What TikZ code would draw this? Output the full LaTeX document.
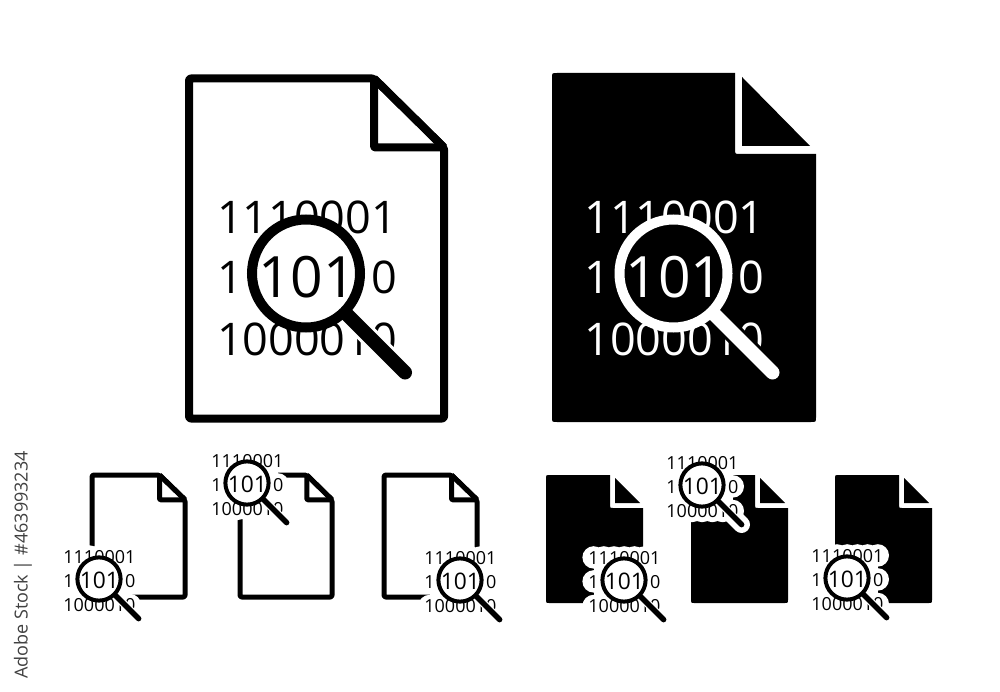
\documentclass[tikz,border=0pt]{standalone}
\usepackage{fontspec}
\setmainfont{Open Sans}
\newcommand{\digitfont}[1]{\fontsize{#1}{#1}\selectfont}
\tikzset{
  digits/.style={inner sep=0pt,outer sep=0pt,anchor=base west,transform shape,font=\digitfont{45}},
  lens/.style={inner sep=0pt,outer sep=0pt,anchor=base,transform shape,font=\digitfont{57}},
  stamp/.style={inner sep=0pt,anchor=east,rotate=90,font=\digitfont{18},text=black!75},
  outlinestroke/.style={draw=black,fill=white,line join=round,rounded corners=2pt}
}
% name, centre x, centre y, scale, foreground, background, halo radius (0 = none)
\newcommand{\magnifier}[7]{%
  \begin{scope}[shift={(#2,#3)},scale=#4]
    \ifnum#7>0
      \foreach \ry in {-56.5,3.5,65}{
        \foreach \i in {0,...,6}{
          \fill[#6] ({-76+25.5*\i},\ry) circle (#7);
        }
      }
      \fill[#6] (-76,-56.5) rectangle (77,65);
      \draw[#6,line width=#4*42pt,line cap=round] (41,41) -- (99,99);
      \fill[#6] (0,0) circle (72);
    \fi
    \node[digits,text=#5] (#1r1) at (-89,-40) {1110001};
    \node[digits,text=#5] (#1r2) at (-89,20) {1\hspace{2.86em}0};
    \node[digits,text=#5] (#1r3) at (-89,81.5) {1000010};
    \fill[#6] (0,0) circle (54);
    \draw[#6,line width=#4*20pt,line cap=butt] (45,45) -- (94,94);
    \draw[#5,line width=#4*14pt,line cap=round] (41,41) -- (99,99);
    \draw[#5,line width=#4*10pt] (0,0) circle (54);
    \node[lens,text=#5] (#1t) at (1,24.5) {101};
  \end{scope}%
}
% left, top, x scale, y scale, line width
\newcommand{\outlinedoc}[5]{%
  \begin{scope}[shift={(#1,#2)},xscale=#3,yscale=#4]
    \draw[outlinestroke,line width=#5] (0,0) -- (185,0) -- (255,69) -- (255,340) -- (0,340) -- cycle;
    \draw[black,line width=#5,line join=round,rounded corners=1pt] (185,0) -- (185,69) -- (255,69);
    \draw[black,line width=#5,line join=round] (185,0) -- (255,69);
  \end{scope}%
}
\newcommand{\filledbig}{%
  \fill[black] (5,0) -- (183,0) -- (183,76) .. controls (183,81) and (183,81) .. (188,81) -- (264,81) -- (264,344) .. controls (264,349) and (264,349) .. (259,349) -- (5,349) .. controls (0,349) and (0,349) .. (0,344) -- (0,5) .. controls (0,0) and (0,0) .. (5,0) -- cycle;
  \fill[black] (190,4) -- (258,73) -- (190,73) -- cycle;
}
\newcommand{\filledsmall}{%
  \fill[black] (3,0) -- (64,0) -- (64,30) .. controls (64,33) and (64,33) .. (67,33) -- (97,33) -- (97,125) .. controls (97,128) and (97,128) .. (94,128) -- (3,128) .. controls (0,128) and (0,128) .. (0,125) -- (0,3) .. controls (0,0) and (0,0) .. (3,0) -- cycle;
  \fill[black] (69,3) -- (94,28) -- (69,28) -- cycle;
}
\begin{document}
\begin{tikzpicture}[x=1pt,y=-1pt]
  \useasboundingbox (0,0) rectangle (1000,692);
  % large outline
  \outlinedoc{189}{78.5}{1}{1}{8pt}
  \magnifier{a}{306}{273.5}{1}{black}{white}{0}
  % large filled
  \begin{scope}[shift={(552,73)}]\filledbig\end{scope}
  \magnifier{b}{673.5}{273.5}{1}{white}{black}{0}
  % small outline
  \outlinedoc{92}{475}{.365}{.359}{5pt}
  \magnifier{c}{99}{579}{.4}{black}{white}{28}
  \outlinedoc{240}{475}{.361}{.359}{5pt}
  \magnifier{d}{247}{483}{.4}{black}{white}{28}
  \outlinedoc{384}{475}{.365}{.359}{5pt}
  \magnifier{e}{460}{580}{.4}{black}{white}{28}
  % small filled
  \begin{scope}[shift={(546,475)}]\filledsmall\end{scope}
  \magnifier{f}{624}{580}{.4}{black}{white}{28}
  \begin{scope}[shift={(691,475)}]\filledsmall\end{scope}
  \magnifier{g}{702}{485}{.4}{black}{white}{28}
  \begin{scope}[shift={(835,475)}]\filledsmall\end{scope}
  \magnifier{h}{847}{578}{.4}{black}{white}{28}
  % stock line
  \node[stamp] (credit) at (23,451) {Adobe Stock | \#463993234};
\end{tikzpicture}
\end{document}
